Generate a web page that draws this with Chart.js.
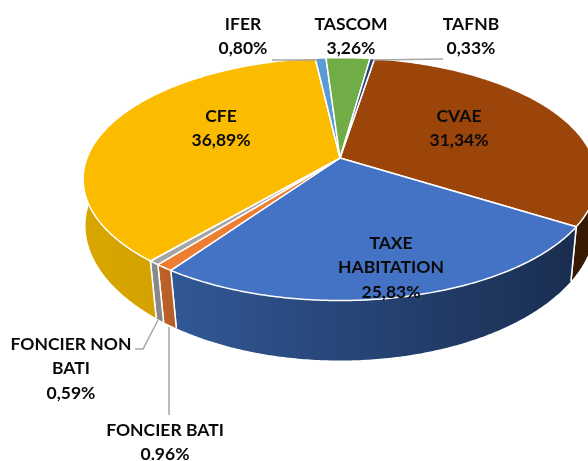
<!DOCTYPE html>
<html>
<head>
<meta charset="utf-8">
<title>Fiscalité</title>
<style>
    html, body { margin: 0; padding: 0; background: #fff; overflow: hidden; }
    canvas { display: block; }
</style>
<script src="https://cdn.jsdelivr.net/npm/chart.js@4"></script>
</head>
<body>
<canvas id="pieChart" width="588" height="461"></canvas>
<script>
const categories = ['CVAE', 'TAXE HABITATION', 'FONCIER BATI', 'FONCIER NON BATI', 'CFE', 'IFER', 'TASCOM', 'TAFNB'];
const values = [31.34, 25.83, 0.96, 0.59, 36.89, 0.80, 3.26, 0.33];
const percentLabels = ['31,34%', '25,83%', '0.96%', '0,59%', '36,89%', '0,80%', '3,26%', '0,33%'];
const topColors = ['#9c450b', '#4472c4', '#ed7d31', '#a5a5a5', '#fbbc00', '#5b9bd5', '#70ad47', '#264478'];
const wallLeft = ['#3f1e05', '#315896', '#bd6329', '#8c8c8c', '#d9a600', '#4a7fb0', '#5c8f3a', '#1c335a'];
const wallRight = ['#361903', '#1a2d50', '#b55d26', '#858585', '#c89a00', '#4a7fb0', '#5c8f3a', '#1c335a'];

// where the text goes: [lines, x, y of first line]
const labelPlaces = [
    [['CVAE'], 459, 116],
    [['TAXE', 'HABITATION'], 391, 243],
    [['FONCIER BATI'], 165, 430],
    [['FONCIER NON', 'BATI'], 71, 344],
    [['CFE'], 221, 116],
    [['IFER'], 243, 24],
    [['TASCOM'], 351, 24],
    [['TAFNB'], 471, 24]
];
const leaderLines = [
    [[272, 60], [318, 60]],
    [[443, 59], [373, 60]],
    [[135, 349], [143, 349], [158, 320]],
    [[169, 327], [169, 415]]
];

// perspective of the tilted disc
const tilt = 0.1736;
const flatten = 0.4655;
const wallDepth = 49.6;

function project(el, angle, lower) {
    const u = Math.cos(angle);
    const v = Math.sin(angle);
    const w = 1 - tilt * v;
    const r = el.outerRadius;
    let x = r * u / w;
    let y = r * flatten * v / w;
    if (lower) {
        x *= 1 - (0.004 + 0.035 * v);
        y += wallDepth / w;
    }
    return [el.x + x, el.y + y];
}

function arcPoints(el, lower) {
    const pts = [];
    const steps = Math.max(2, Math.ceil((el.endAngle - el.startAngle) / 0.01));
    for (let i = 0; i <= steps; i++) {
        pts.push(project(el, el.startAngle + (el.endAngle - el.startAngle) * i / steps, lower));
    }
    return pts;
}

function tracePath(ctx, pts) {
    ctx.beginPath();
    pts.forEach((p, i) => {
        if (i === 0) ctx.moveTo(p[0], p[1]);
        else ctx.lineTo(p[0], p[1]);
    });
    ctx.closePath();
}

const pie3d = {
    id: 'pie3d',
    beforeDatasetsDraw(chart) {
        const ctx = chart.ctx;
        const arcs = chart.getDatasetMeta(0).data;
        ctx.save();
        ctx.lineJoin = 'round';
        ctx.strokeStyle = '#fff';

        // side walls first, the top surface covers whatever is behind
        arcs.forEach((el, i) => {
            const top = arcPoints(el, false);
            const low = arcPoints(el, true).reverse();
            const xs = top.concat(low).map(p => p[0]);
            const grad = ctx.createLinearGradient(Math.min(...xs), 0, Math.max(...xs), 0);
            grad.addColorStop(0, wallLeft[i]);
            grad.addColorStop(1, wallRight[i]);
            tracePath(ctx, top.concat(low));
            ctx.fillStyle = grad;
            ctx.fill();
            // only the seams between slices get a white edge
            const a = top[top.length - 1];
            const b = low[0];
            const c = top[0];
            const d = low[low.length - 1];
            ctx.lineWidth = 1.5;
            ctx.beginPath();
            ctx.moveTo(a[0], a[1]);
            ctx.lineTo(b[0], b[1]);
            ctx.moveTo(c[0], c[1]);
            ctx.lineTo(d[0], d[1]);
            ctx.stroke();
        });

        arcs.forEach((el, i) => {
            const pts = arcPoints(el, false);
            pts.unshift([el.x, el.y]);
            tracePath(ctx, pts);
            ctx.fillStyle = topColors[i];
            ctx.fill();
            ctx.lineWidth = 1.5;
            ctx.stroke();
        });
        ctx.restore();
        return false;
    },
    afterDraw(chart) {
        const ctx = chart.ctx;
        ctx.save();
        ctx.strokeStyle = '#a6a6a6';
        ctx.lineWidth = 1.5;
        leaderLines.forEach(line => {
            ctx.beginPath();
            line.forEach((p, i) => {
                if (i === 0) ctx.moveTo(p[0], p[1]);
                else ctx.lineTo(p[0], p[1]);
            });
            ctx.stroke();
        });

        ctx.fillStyle = '#0a0a0a';
        ctx.font = 'bold 17.5px Lato, sans-serif';
        ctx.textAlign = 'center';
        ctx.textBaseline = 'middle';
        labelPlaces.forEach((place, i) => {
            const lines = place[0].concat(percentLabels[i]);
            lines.forEach((text, n) => {
                ctx.fillText(text, place[1], place[2] + n * 24.7);
            });
        });
        ctx.restore();
    }
};

new Chart(document.getElementById('pieChart').getContext('2d'), {
    type: 'pie',
    data: {
        labels: categories,
        datasets: [{
            data: values,
            backgroundColor: topColors,
            radius: 253
        }]
    },
    options: {
        responsive: false,
        animation: false,
        rotation: 9.2,
        layout: { padding: { left: 92, right: 0, top: 0, bottom: 145 } },
        plugins: {
            legend: { display: false },
            tooltip: { enabled: false }
        }
    },
    plugins: [pie3d]
});
</script>
</body>
</html>
